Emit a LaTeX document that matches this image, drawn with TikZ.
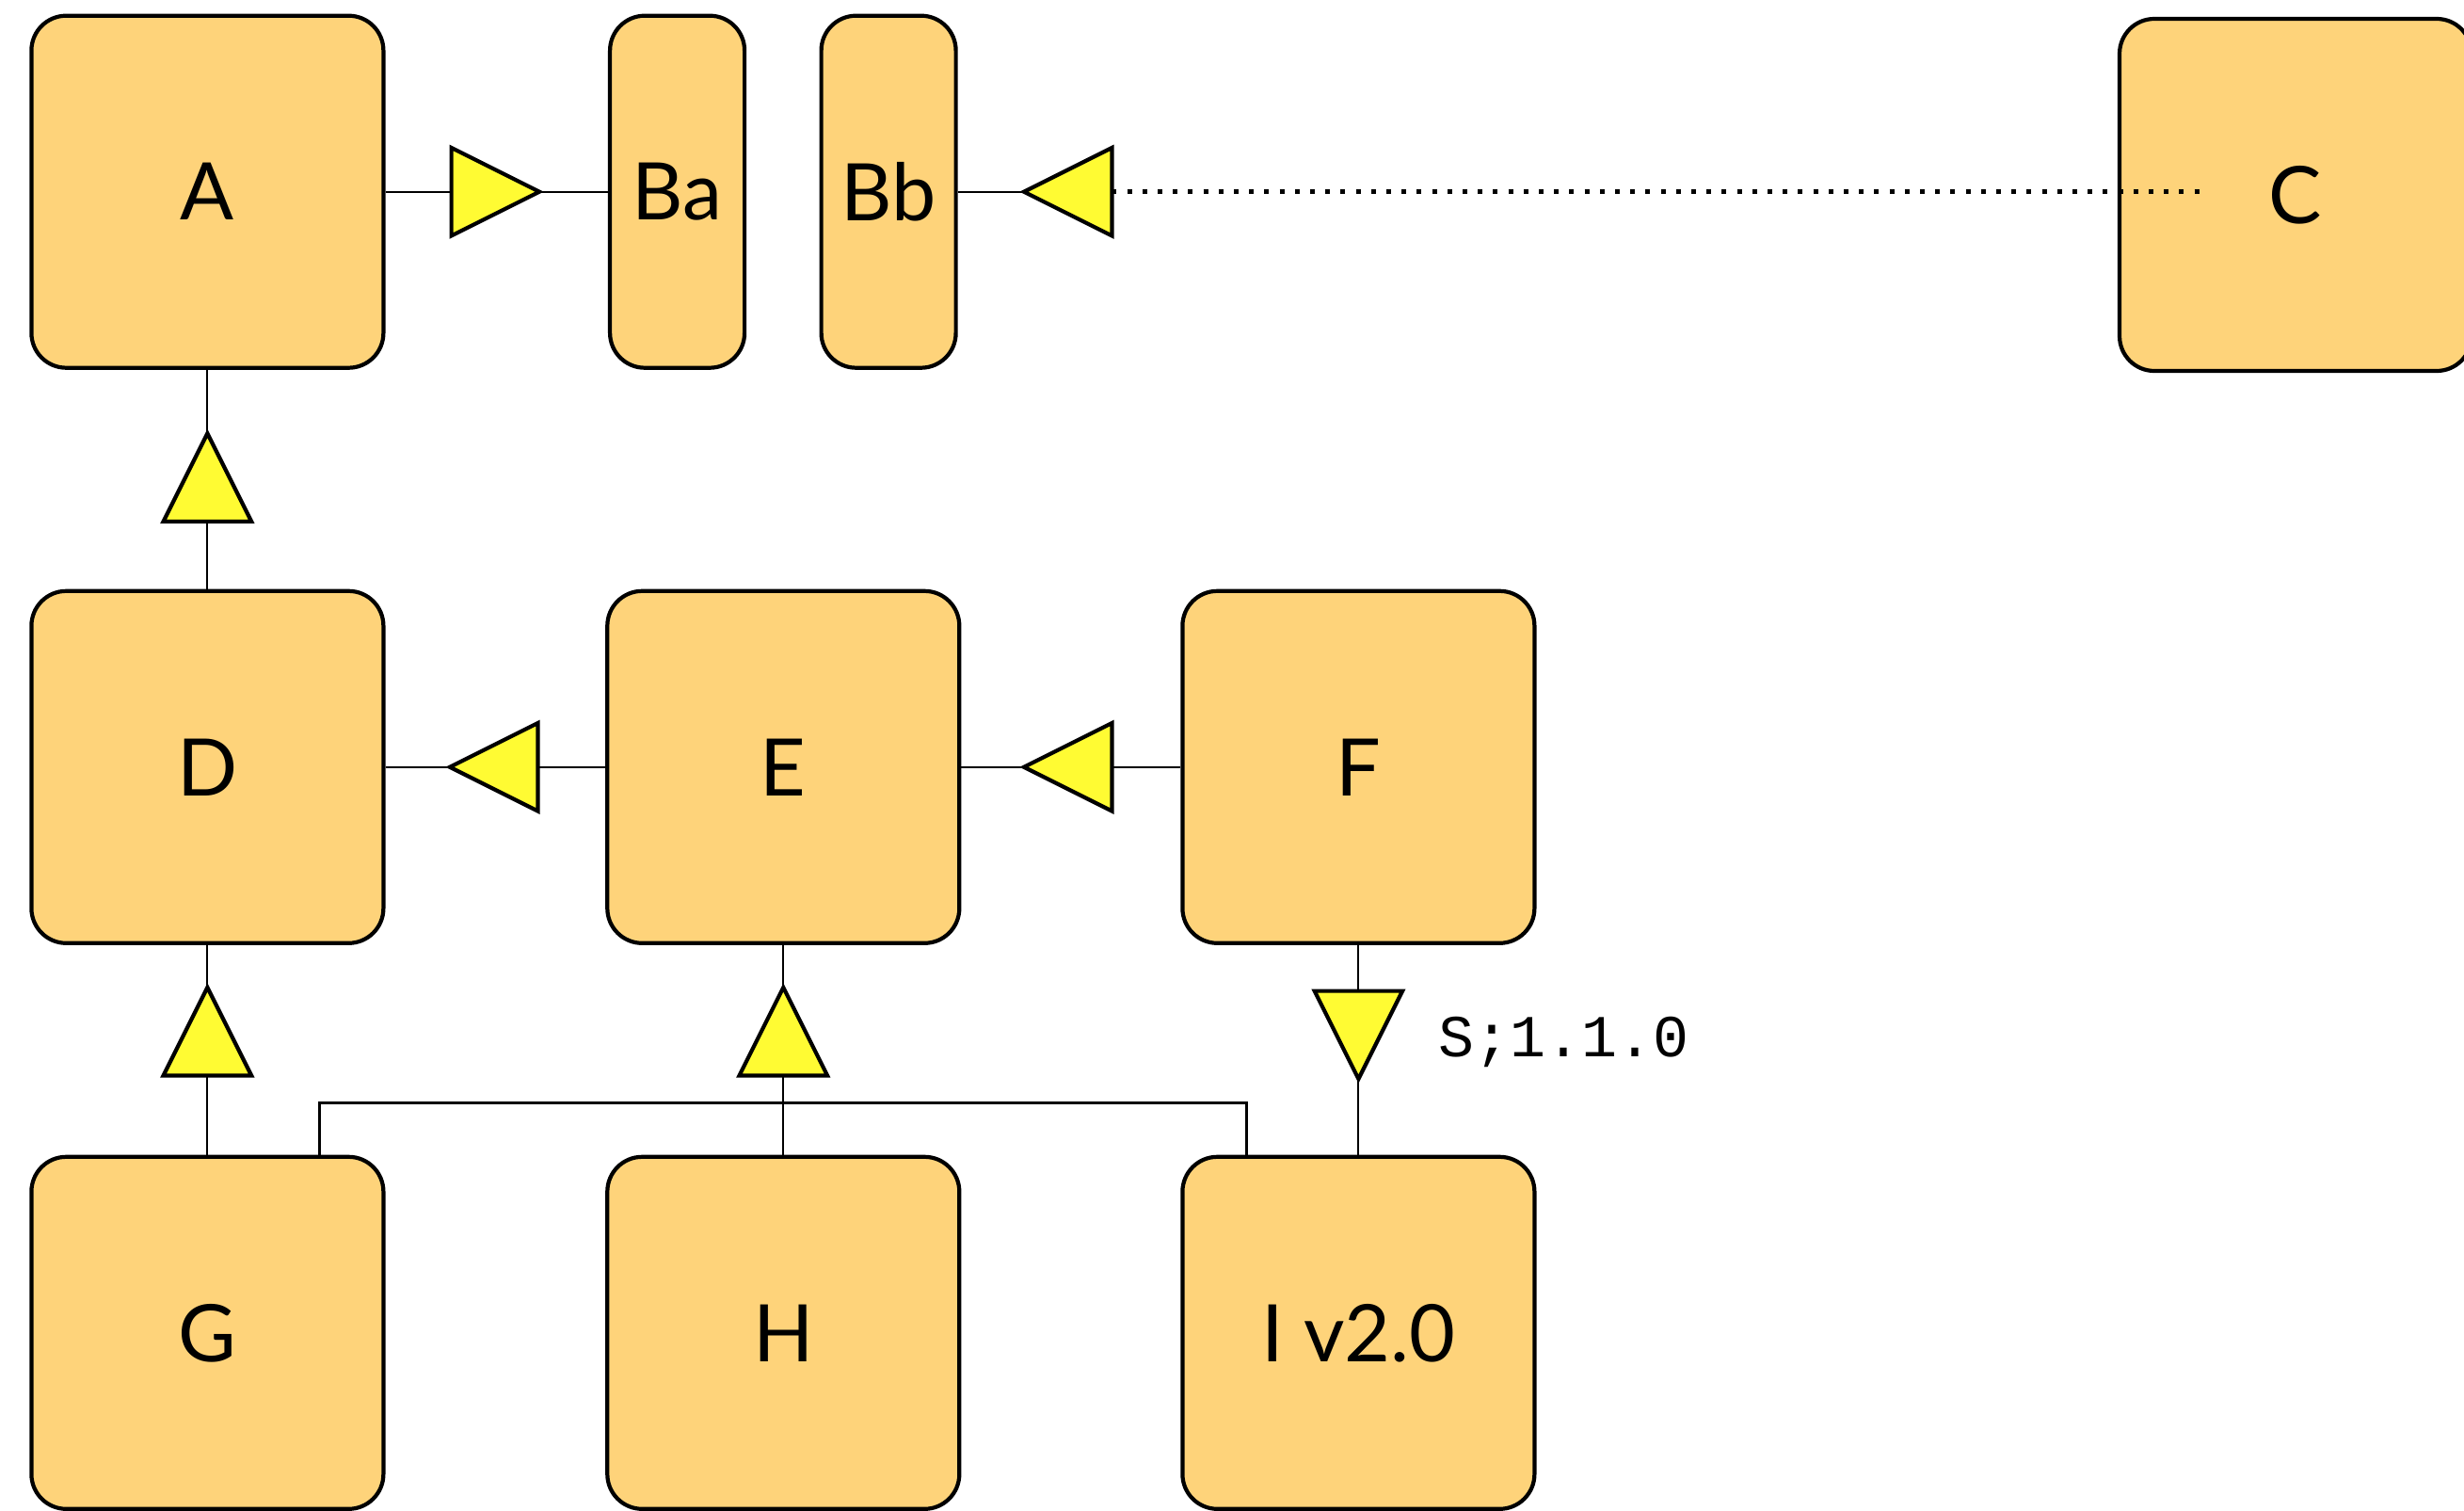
\documentclass[tikz,border=0pt]{standalone}
\usepackage{fontspec}
\setmainfont{Lato}
\newfontfamily\codefont{Liberation Mono}
\usetikzlibrary{shapes.geometric}
\definecolor{boxfill}{RGB}{254,211,122}
\definecolor{tipfill}{RGB}{255,251,51}

\begin{document}
\begin{tikzpicture}[font=\fontsize{24}{28}\selectfont,
    blk/.style={draw,line width=1.2pt,fill=boxfill,rounded corners=0.37cm,
      minimum width=3.74cm,minimum height=3.74cm,inner sep=0pt},
    thin blk/.style={blk,minimum width=1.43cm},
    tip/.style={draw,line width=1.2pt,fill=tipfill,isosceles triangle,
      isosceles triangle stretches,minimum width=0.935cm,minimum height=0.935cm,
      inner sep=0pt,outer sep=0pt},
    link/.style={line width=0.6pt}]
  \useasboundingbox (0,0) rectangle (26.18,-16.05);
  % boxes
  \node[blk]      (A)  at (2.204,-2.037)  {A};
  \node[thin blk] (Ba) at (7.196,-2.037)  {Ba};
  \node[thin blk] (Bb) at (9.441,-2.037)  {Bb};
  \node[blk]      (C)  at (24.39,-2.07)   {C};
  \node[blk]      (D)  at (2.204,-8.148)  {D};
  \node[blk]      (E)  at (8.323,-8.148)  {E};
  \node[blk]      (F)  at (14.434,-8.148) {F};
  \node[blk]      (G)  at (2.204,-14.158) {G};
  \node[blk]      (H)  at (8.323,-14.158) {H};
  \node[blk]      (I)  at (14.434,-14.158) {I v2.0};
  % triangles
  \node[tip,shape border rotate=0]   (tAB) at (5.085,-2.037)  {};
  \node[tip,shape border rotate=180] (tCB) at (11.525,-2.037) {};
  \node[tip,shape border rotate=90]  (tDA) at (2.204,-5.25)   {};
  \node[tip,shape border rotate=180] (tED) at (5.425,-8.148)  {};
  \node[tip,shape border rotate=180] (tFE) at (11.525,-8.148) {};
  \node[tip,shape border rotate=90]  (tGD) at (2.204,-11.135) {};
  \node[tip,shape border rotate=90]  (tHE) at (8.323,-11.135) {};
  \node[tip,shape border rotate=270] (tFI) at (14.434,-10.815) {};
  % connectors
  \draw[link] (A.east) -- (tAB.lower side);
  \draw[link] (tAB.apex) -- (Ba.west);
  \draw[link] (Bb.east) -- (tCB.apex);
  \coordinate (Cend) at (23.458,-2.037);
  \draw[line width=0.05cm,dash pattern=on 0.05cm off 0.112cm] (tCB.lower side) -- (Cend);
  \draw[link] (A.south) -- (tDA.apex);
  \draw[link] (tDA.lower side) -- (D.north);
  \draw[link] (D.east) -- (tED.apex);
  \draw[link] (tED.lower side) -- (E.west);
  \draw[link] (E.east) -- (tFE.apex);
  \draw[link] (tFE.lower side) -- (F.west);
  \draw[link] (D.south) -- (tGD.apex);
  \draw[link] (tGD.lower side) -- (G.north);
  \draw[link] (E.south) -- (tHE.apex);
  \draw[link] (tHE.lower side) -- (H.north);
  \draw[link] (F.south) -- (tFI.lower side);
  \draw[link] (tFI.apex) -- (I.north);
  \draw[line width=0.8pt] ([xshift=1.19cm]G.north) -- ++(0,0.55) -| ([xshift=-1.19cm]I.north);
  % version label
  \node[anchor=west,inner sep=0pt,font=\codefont\fontsize{18}{20}\selectfont] (lbl) at (15.28,-11.07) {S;1.1.0};
\end{tikzpicture}
\end{document}
